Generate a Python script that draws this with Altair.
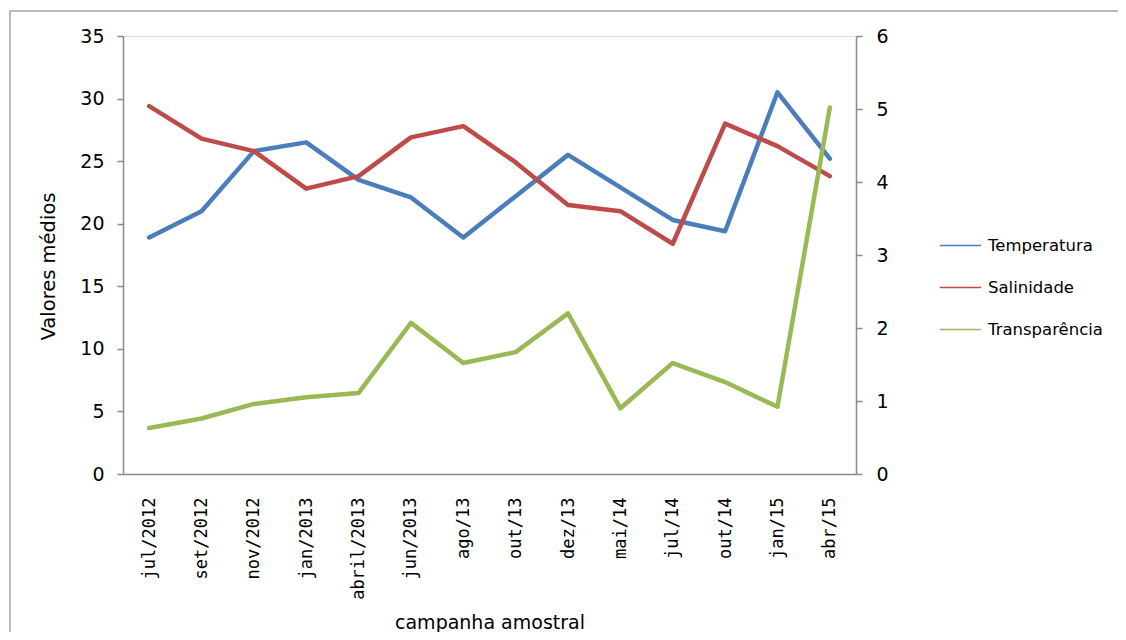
import altair as alt
import pandas as pd

campanhas = ["jul/2012", "set/2012", "nov/2012", "jan/2013", "abril/2013", "jun/2013",
             "ago/13", "out/13", "dez/13", "mai/14", "jul/14", "out/14", "jan/15", "abr/15"]
temperatura = [18.9, 21.0, 25.8, 26.5, 23.5, 22.1, 18.9, 22.2, 25.5, 22.9, 20.3, 19.4, 30.5, 25.2]
salinidade = [29.4, 26.8, 25.8, 22.8, 23.8, 26.9, 27.8, 24.9, 21.5, 21.0, 18.4, 28.0, 26.2, 23.8]
transparencia = [0.63, 0.76, 0.96, 1.05, 1.11, 2.07, 1.52, 1.67, 2.20, 0.90, 1.52, 1.26, 0.92, 5.02]
series = ["Temperatura", "Salinidade", "Transparência"]
cores = ["#4A7EBB", "#BE4B48", "#98B954"]

rows = []
for nome, vals in zip(series, [temperatura, salinidade, transparencia]):
    for c, v in zip(campanhas, vals):
        rows.append({"campanha": c, "serie": nome, "valor": v})
df = pd.DataFrame(rows)

W, H = 733, 438
FONT = "DejaVu Sans"

xenc = alt.X(
    "campanha:N", sort=campanhas, scale=alt.Scale(domain=campanhas),
    axis=alt.Axis(
        title="campanha amostral", labelAngle=-90, labelFont="DejaVu Sans Mono",
        labelFontSize=17, labelColor="black", labelPadding=23, ticks=False,
        domainColor="#8a8a8a", domainWidth=1.5, grid=False,
        titleFont=FONT, titleFontSize=19, titleFontWeight="normal", titleColor="black",
        titleX=W / 2, titleY=139, titleAlign="center", titleBaseline="top",
    ),
)
colenc = alt.Color(
    "serie:N", scale=alt.Scale(domain=series, range=cores),
    legend=alt.Legend(
        title=None, orient="none", legendX=816, legendY=188, symbolType="stroke",
        symbolSize=1700, symbolStrokeWidth=1.6, labelFont=FONT, labelFontSize=16.5,
        labelColor="black", labelOffset=6, rowPadding=12, padding=0,
    ),
)

base = alt.Chart(df).encode(x=xenc, color=colenc)
line_style = dict(strokeWidth=4.5, strokeJoin="round", strokeCap="round")

left = base.transform_filter(alt.datum.serie != "Transparência").mark_line(**line_style).encode(
    y=alt.Y("valor:Q", scale=alt.Scale(domain=[0, 35], nice=False),
            axis=alt.Axis(title="Valores médios", values=list(range(0, 36, 5)), orient="left",
                          labelFont=FONT, labelFontSize=19, labelColor="black", labelPadding=13,
                          tickSize=6, tickColor="#8a8a8a", tickWidth=1.5,
                          domainColor="#8a8a8a", domainWidth=1.5, grid=False,
                          titleFont=FONT, titleFontSize=19.5, titleFontWeight="normal",
                          titleColor="black", titleX=-75, titleY=H / 2 + 11,
                          titleAlign="center", titleBaseline="middle")),
)

right = base.transform_filter(alt.datum.serie == "Transparência").mark_line(**line_style).encode(
    y=alt.Y("valor:Q", scale=alt.Scale(domain=[0, 6], nice=False),
            axis=alt.Axis(title=None, values=list(range(0, 7)), orient="right",
                          labelFont=FONT, labelFontSize=19, labelColor="black", labelPadding=14,
                          tickSize=6, tickColor="#8a8a8a", tickWidth=1.5,
                          domainColor="#8a8a8a", domainWidth=1.5, grid=False)),
)

frame = alt.Chart(pd.DataFrame({"a": [0]})).mark_rect(
    fill=None, stroke="#a6a6a6", strokeWidth=1.5
).encode(x=alt.value(-113), x2=alt.value(1040), y=alt.value(-25), y2=alt.value(640))

chart = alt.layer(frame, left, right).resolve_scale(y="independent").properties(
    width=W, height=H,
    autosize=alt.AutoSizeParams(type="none"),
    padding={"left": 115, "top": 28, "right": 262, "bottom": 158},
).configure_view(stroke=None).configure(background="white")

chart.save("out.html", embed_options={"renderer": "svg", "actions": False})
